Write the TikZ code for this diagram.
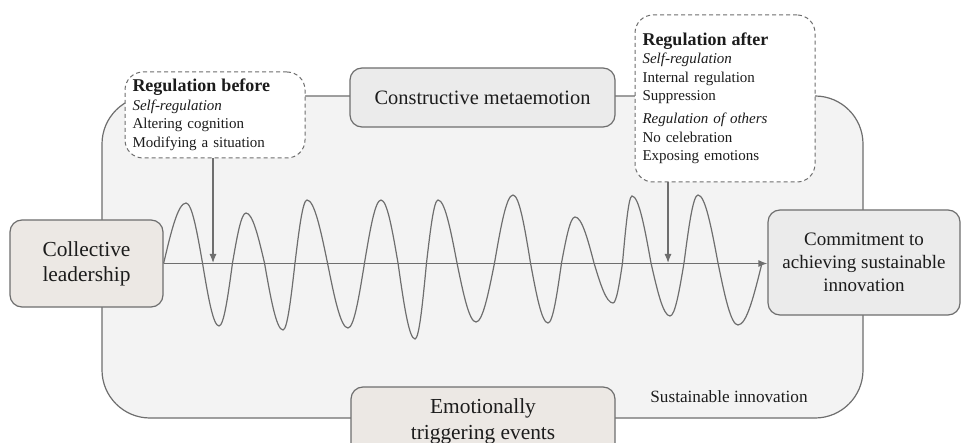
\documentclass[tikz,border=0pt]{standalone}
\usepackage{fontspec}
\setmainfont{Liberation Serif}
\usetikzlibrary{arrows.meta}
\definecolor{bgfill}{HTML}{F3F3F3}
\definecolor{boxfill}{HTML}{EBEBEB}
\definecolor{warmfill}{HTML}{ECE8E4}
\definecolor{linegray}{HTML}{6E6E6E}
\definecolor{txt}{HTML}{1C1C1C}
\tikzset{
  bigbox/.style={draw=linegray, line width=0.6pt, fill=bgfill, rounded corners=24pt},
  solidbox/.style={draw=linegray, line width=0.6pt, fill=boxfill, rounded corners=6pt, align=center, text=txt, inner sep=0pt},
  dashbox/.style={draw=linegray, line width=0.5pt, dash pattern=on 2pt off 1.5pt, fill=white, rounded corners=9pt, align=left, text=txt, inner sep=0pt, text width=82.5pt, minimum width=90pt},
  conn/.style={draw=linegray, line width=0.6pt, -{Latex[length=4.5pt,width=3.5pt]}},
  wave/.style={draw=linegray, line width=0.6pt}
}
\begin{document}
\begin{tikzpicture}[x=0.5pt,y=-0.5pt]
\useasboundingbox (0,0) rectangle (963,443);
\clip (0,0) rectangle (963,443);
\fill[white] (0,0) rectangle (963,443);
% big background frame
\draw[bigbox] (102,96) rectangle (863,418);
\node[text=txt, font=\fontsize{8.6}{10}\selectfont, anchor=west, inner sep=0pt] (sust) at (650,397) {Sustainable innovation};
% boxes
\node[solidbox, fill=warmfill, minimum width=76.5pt, minimum height=43.5pt, font=\fontsize{10.7}{12.5}\selectfont] (lead) at (86.5,263.5) {Collective\\leadership};
\node[solidbox, minimum width=96pt, minimum height=52.5pt, font=\fontsize{9.5}{11.5}\selectfont] (commit) at (864,262.5) {Commitment to\\achieving sustainable\\innovation};
\node[solidbox, minimum width=132.5pt, minimum height=29.5pt, font=\fontsize{10.2}{12}\selectfont] (meta) at (482.5,97.5) {Constructive metaemotion};
\node[solidbox, fill=warmfill, minimum width=132pt, minimum height=34pt, font=\fontsize{10.7}{13}\selectfont] (events) at (483,421) {Emotionally\\triggering events};
% dashed regulation boxes
\node[dashbox, minimum height=43pt, font=\fontsize{7.5}{9.25}\selectfont] (before) at (215,115)
  {{\fontsize{9}{9.25}\selectfont\bfseries Regulation before}\\
   \textit{Self-regulation}\\
   Altering cognition\\
   Modifying a situation};
\node[dashbox, minimum height=83.5pt, font=\fontsize{7.5}{9.25}\selectfont] (after) at (725,98.5)
  {{\fontsize{9}{9.25}\selectfont\bfseries Regulation after}\\
   \textit{Self-regulation}\\
   Internal regulation\\
   Suppression\\[2.25pt]
   \textit{Regulation of others}\\
   No celebration\\
   Exposing emotions};
% axis
\draw[conn] (lead.east) -- (lead.east -| commit.west);
% wave
\draw[wave] (lead.east) sin (186,203) cos (202.5,263) sin (219,326) cos (232.5,263)
  sin (246,213) cos (264.5,263) sin (283,330) cos (295,263) sin (307,200) cos (327.5,263)
  sin (348,328) cos (364.5,263) sin (381,200) cos (398,263) sin (415,339) cos (426.5,263)
  sin (438,200) cos (457,263) sin (476,322) cos (494.5,263) sin (513,195) cos (530.5,263)
  sin (548,323) cos (561.5,263) sin (575,217) cos (594,263) sin (613,303) cos (622.5,263)
  sin (632,196) cos (651,263) sin (670,316) cos (684,263) sin (698,195) cos (718,263)
  sin (738,325) cos (762,263);
% regulation arrows
\coordinate (a1) at (213,263);
\coordinate (a2) at (668,263);
\draw[conn] (before.south -| a1) -- (a1);
\draw[conn] (after.south -| a2) -- (a2);
\end{tikzpicture}
\end{document}
